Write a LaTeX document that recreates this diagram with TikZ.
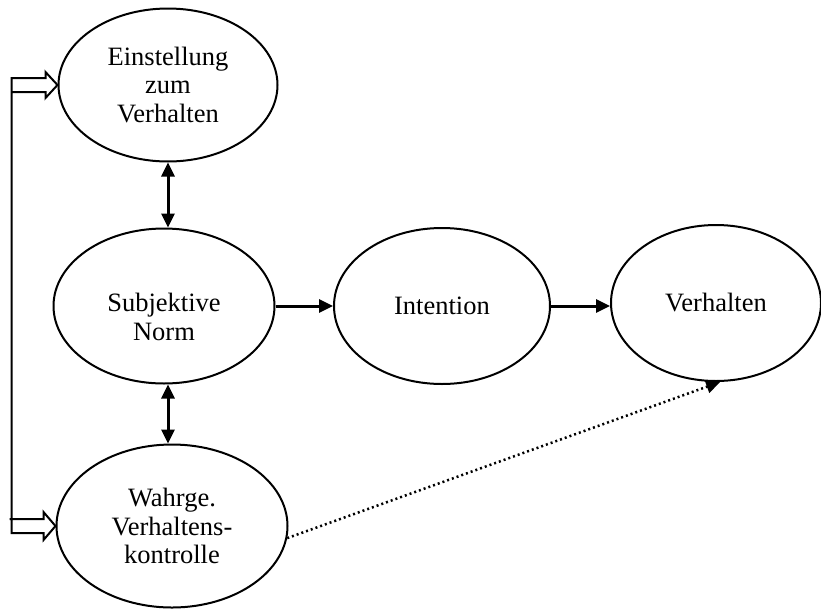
\documentclass[tikz,border=0pt]{standalone}
\usepackage{fontspec}
\setmainfont{Liberation Serif}
\usetikzlibrary{shapes.geometric, arrows.meta, calc}
\tikzset{>={Triangle[length=14pt,width=13pt]},
  bubble/.style={ellipse, draw, line width=2pt, inner sep=0pt, align=center,
    font=\fontsize{26.5}{28.5}\selectfont},
  link/.style={->, line width=3pt},
  both/.style={<->, line width=3pt},
  hollow/.style={line width=2pt, line join=miter},
  hint/.style={->, line width=2.5pt, dash pattern=on 2pt off 3pt}}

\begin{document}
\begin{tikzpicture}[x=1pt, y=-1pt]
    \useasboundingbox (0,0) rectangle (821,608);
    \node[bubble, minimum width=219pt, minimum height=153pt] (einst) at (168,85) {Einstellung\\zum\\Verhalten};
    \node[bubble, minimum width=221pt, minimum height=155pt] (subj) at (164,306) {\rule{0pt}{40pt}Subjektive\\Norm};
    \node[bubble, minimum width=231pt, minimum height=163pt] (wahr) at (172,526) {Wahrge.\\Verhaltens-\\kontrolle};
    \node[bubble, minimum width=216pt, minimum height=156pt] (intent) at (442,306) {Intention};
    \node[bubble, minimum width=210pt, minimum height=156pt] (verh) at (716,303) {Verhalten};
    \draw[both] (einst.south) -- (einst.south |- subj.north);
    \draw[both] (einst.south |- subj.south) -- (einst.south |- wahr.north);
    \draw[link] (subj) -- (intent);
    \draw[link] (intent.east) -- (intent.east -| verh.west);
    \draw[hint] (wahr.-6) -- (verh.-87);
    \draw[hollow] ($(einst.west)+(-46,7)$) -- ++(34,0) -- ++(0,6) -- (einst.west)
      -- ++(-12,-13) -- ++(0,6) -- ++(-34,0) |- ($(wahr.west)+(-12,7)$)
      -- ++(0,7) -- (wahr.west) -- ++(-12,-14) -- ++(0,7) -- ++(-34,0);
\end{tikzpicture}
\end{document}
